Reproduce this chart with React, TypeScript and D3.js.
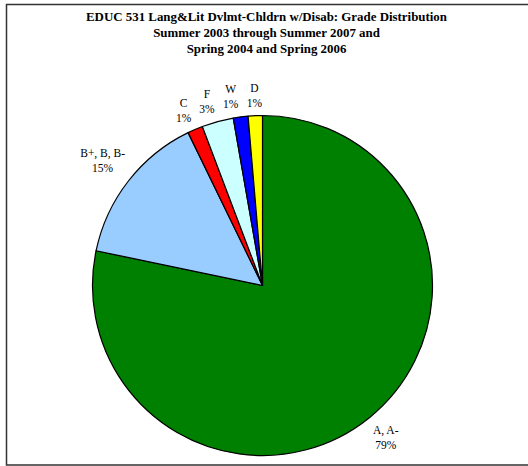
import React, { useEffect, useRef } from "react";
import * as d3 from "d3";

const titleLines = [
  "EDUC 531 Lang&Lit Dvlmt-Chldrn w/Disab: Grade Distribution",
  "Summer 2003 through Summer 2007 and",
  "Spring 2004 and Spring 2006",
];
const categories = ["A, A-", "B+, B, B-", "C", "F", "W", "D"];
const values = [78.2, 14.5, 1.45, 3.0, 1.4, 1.35];
const pctLabels = ["79%", "15%", "1%", "3%", "1%", "1%"];
const colors = ["#008000", "#99CCFF", "#FF0000", "#CCFFFF", "#0000FF", "#FFFF00"];

const W = 528;
const H = 466;
const FONT = "'Liberation Serif', 'Times New Roman', serif";

export default function App() {
  const ref = useRef<SVGSVGElement>(null);

  useEffect(() => {
    const svg = d3.select(ref.current);
    svg.selectAll("*").remove();

    // frame
    svg
      .append("path")
      .attr("d", `M${W + 5},4.5 H6.5 V465 H${W + 5}`)
      .attr("fill", "none")
      .attr("stroke", "#333")
      .attr("stroke-width", 1.5);

    // title
    const title = svg
      .append("text")
      .attr("font-family", FONT)
      .attr("font-weight", "bold")
      .attr("font-size", 12.9)
      .attr("text-anchor", "middle")
      .attr("fill", "#000");
    titleLines.forEach((t, i) => {
      title
        .append("tspan")
        .attr("x", 266.5)
        .attr("y", 20.5 + i * 16.3)
        .text(t);
    });

    const cx = 262.5;
    const cy = 285.5;
    const R = 170;

    const pie = d3
      .pie<number>()
      .sort(null)
      .value((d) => d)
      .startAngle(0)
      .endAngle(2 * Math.PI);
    const arcs = pie(values);
    const arc = d3.arc<d3.PieArcDatum<number>>().innerRadius(0).outerRadius(R);

    const g = svg.append("g").attr("transform", `translate(${cx},${cy})`);
    g.selectAll("path")
      .data(arcs)
      .enter()
      .append("path")
      .attr("d", arc)
      .attr("fill", (_, i) => colors[i])
      .attr("stroke", "#000")
      .attr("stroke-width", 1.2)
      .attr("stroke-linejoin", "round");

    // labels
    const fs = 11.5;
    const lh = 15;
    const gap = 5;
    const pad = 4;
    const measure = (s: string) => {
      const t = svg
        .append("text")
        .attr("font-family", FONT)
        .attr("font-size", fs)
        .text(s);
      const w = (t.node() as SVGTextElement).getComputedTextLength();
      t.remove();
      return w;
    };
    const items = arcs.map((a, i) => {
      const t = g
        .append("text")
        .attr("font-family", FONT)
        .attr("font-size", fs)
        .attr("text-anchor", "middle")
        .attr("fill", "#000");
      const l1 = t.append("tspan").text(categories[i]);
      const l2 = t.append("tspan").text(pctLabels[i]);
      return {
        l1,
        l2,
        half: Math.max(measure(categories[i]), measure(pctLabels[i])) / 2,
        theta: (a.startAngle + a.endAngle) / 2,
        x: 0,
        y: 0,
      };
    });
    const place = (it: (typeof items)[number]) => {
      const s = Math.sin(it.theta);
      const c = -Math.cos(it.theta);
      const dist = R + gap + (it.half + 1) * Math.abs(s) + lh * Math.abs(c);
      it.x = s * dist;
      it.y = c * dist;
    };
    items.forEach(place);
    const overlap = (p: (typeof items)[number], q: (typeof items)[number]) =>
      Math.abs(p.x - q.x) < p.half + q.half + 2 * pad &&
      Math.abs(p.y - q.y) < 2 * lh;
    for (let i = items.length - 2; i >= 1; i--) {
      let n = 0;
      while (overlap(items[i], items[i + 1]) && n < 500) {
        items[i].theta -= 0.002;
        place(items[i]);
        n++;
      }
    }
    items.forEach((it) => {
      it.l1.attr("x", it.x).attr("y", it.y - lh / 2 + fs * 0.35);
      it.l2.attr("x", it.x).attr("y", it.y + lh / 2 + fs * 0.35);
    });
  }, []);

  return (
    <svg
      ref={ref}
      width={W}
      height={H}
      style={{ position: "absolute", left: 0, top: 0, background: "#fff" }}
    />
  );
}
